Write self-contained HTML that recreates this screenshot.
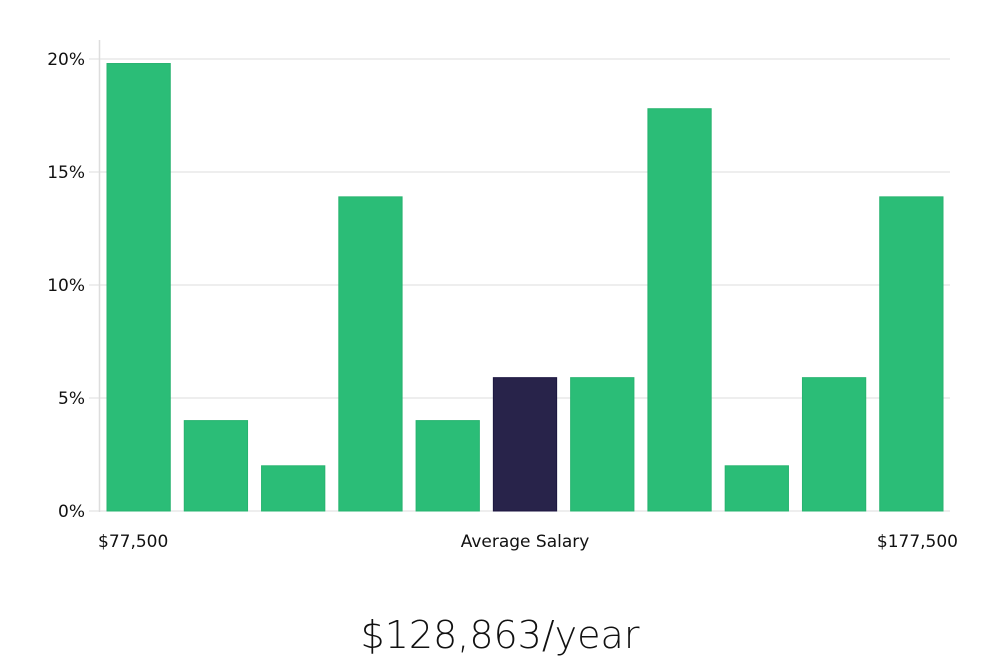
<!DOCTYPE html>
<html><head><meta charset="utf-8">
<style>
html,body{margin:0;padding:0;background:#fff;}
body{width:1000px;height:660px;overflow:hidden;font-family:"DejaVu Sans","Liberation Sans",sans-serif;}
svg text{font-family:"DejaVu Sans","Liberation Sans",sans-serif;}
</style></head>
<body>
<svg id="chart" width="1000" height="660" viewBox="0 0 1000 660" xmlns="http://www.w3.org/2000/svg">
  <g id="grid"></g>
  <line x1="99.5" y1="40" x2="99.5" y2="512" stroke="#dddddd" stroke-width="1.5"/>
  <g id="yticks"></g>
  <g id="bars"></g>
  <text x="98" y="547" font-size="17" fill="#111">$77,500</text>
  <text x="525" y="547" font-size="17" fill="#111" text-anchor="middle">Average Salary</text>
  <text x="958" y="547" font-size="17" fill="#111" text-anchor="end">$177,500</text>
  <text x="500" y="648" font-size="38" fill="#111" text-anchor="middle" font-family="Liberation Sans, sans-serif" font-weight="300">$128,863/year</text>
</svg>
<script>
const values = [19.8, 4, 2, 13.9, 4, 5.9, 5.9, 17.8, 2, 5.9, 13.9];
const highlight = [false, false, false, false, false, true, false, false, false, false, false];
const yTicks = [0, 5, 10, 15, 20];
const yTickLabels = ["0%", "5%", "10%", "15%", "20%"];

const ns = "http://www.w3.org/2000/svg";
const x0 = 100, x1 = 950, yBase = 511, yTop = 59, yMax = 20;
const y = v => yBase - (v / yMax) * (yBase - yTop);
const band = (x1 - x0) / values.length;
const pad = 7;

const grid = document.getElementById('grid');
const yt = document.getElementById('yticks');
yTicks.forEach((t, i) => {
  const gl = document.createElementNS(ns, 'line');
  
  
  gl.setAttribute('x1', 89); gl.setAttribute('x2', x1);
  gl.setAttribute('y1', y(t)); gl.setAttribute('y2', y(t));
  gl.setAttribute('stroke', '#dddddd'); gl.setAttribute('stroke-width', '1');
  grid.appendChild(gl);
  const tx = document.createElementNS(ns, 'text');
  
  
  tx.setAttribute('x', 85); tx.setAttribute('y', y(t) + 6);
  tx.setAttribute('text-anchor', 'end'); tx.setAttribute('font-size', '17');
  tx.setAttribute('fill', '#111');
  tx.textContent = yTickLabels[i];
  yt.appendChild(tx);
});

const bars = document.getElementById('bars');
values.forEach((v, i) => {
  const r = document.createElementNS(ns, 'rect');
  
  
  r.setAttribute('x', x0 + i * band + pad);
  r.setAttribute('width', band - 2 * pad);
  r.setAttribute('y', y(v));
  r.setAttribute('height', yBase - y(v));
  r.setAttribute('fill', highlight[i] ? '#28234a' : '#2bbd77');
  r.setAttribute('stroke', highlight[i] ? '#1b1640' : '#27b36f');
  r.setAttribute('stroke-width', '1');
  bars.appendChild(r);
});
</script>
</body></html>
